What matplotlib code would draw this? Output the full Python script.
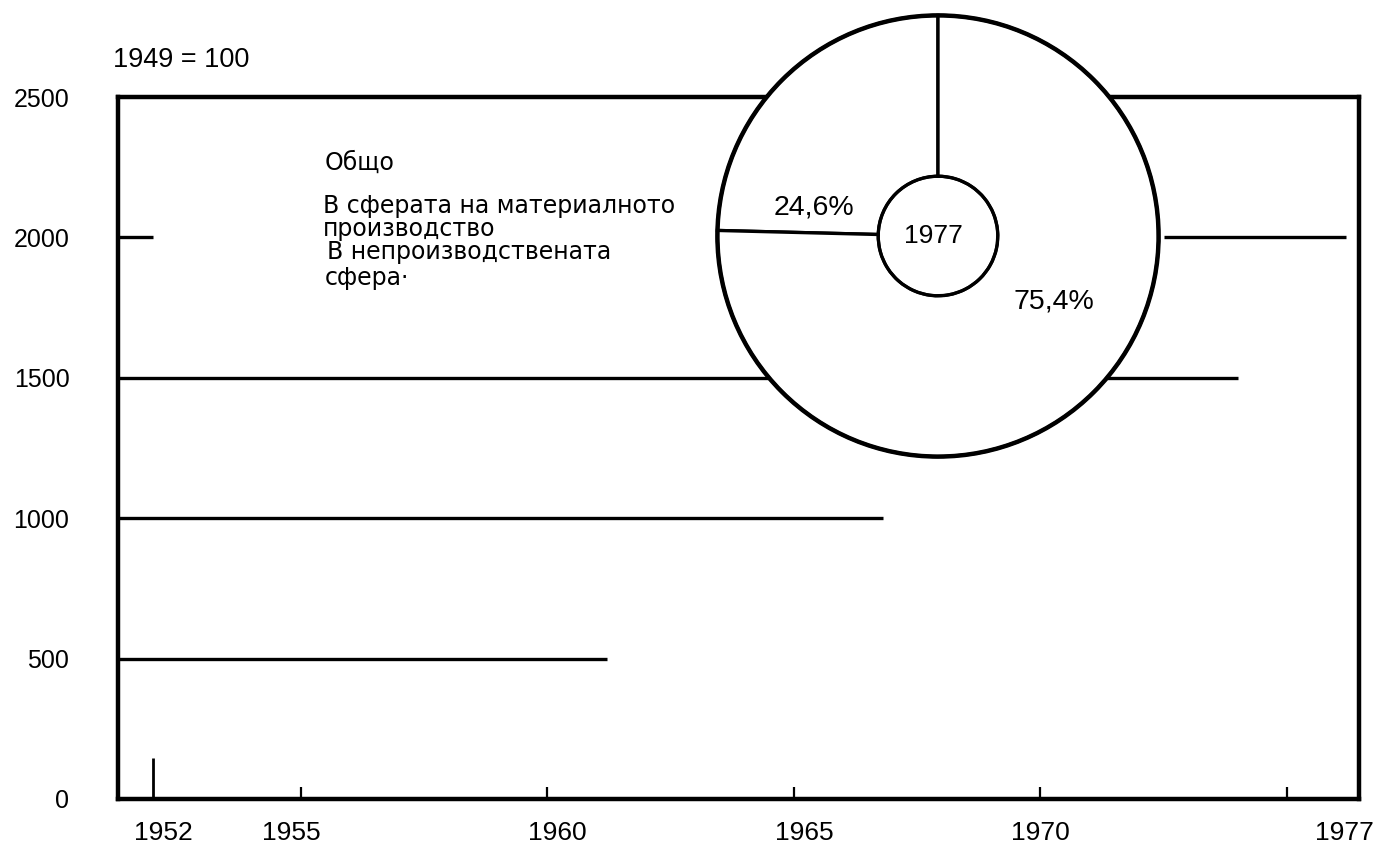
import matplotlib
matplotlib.use("Agg")
import matplotlib.pyplot as plt
from matplotlib.patches import Circle

plt.rcParams['font.family'] = ['Liberation Sans', 'DejaVu Sans']

## Index values, 1949 = 100
levels = [500, 1000, 1500, 2000, 2000]
line_start = [1951.3, 1951.3, 1951.3, 1951.3, 1972.5]
line_end = [1961.2, 1966.8, 1974.0, 1952.0, 1976.2]

bar_year = 1952
bar_value = 145

tick_years = [1955, 1960, 1965, 1970, 1975]
label_years = [1952, 1955, 1960, 1965, 1970, 1977]
y_ticks = [0, 500, 1000, 1500, 2000, 2500]

## Structure in 1977
pie_values = [24.6, 75.4]
pie_year = "1977"

legend_lines = ["Общо",
                "В сферата на материалното",
                "производство",
                "В непроизводствената",
                "сфера·"]

x_left, x_right = 1951.29, 1976.46

fig = plt.figure(figsize=(13.9, 8.55), dpi=100)
ax = fig.add_axes([0.0849, 0.0655, 0.8928, 0.821])

for lev, a, b in zip(levels, line_start, line_end):
    ax.plot([a, b], [lev, lev], color='black', lw=2.4, solid_capstyle='butt')
ax.vlines(bar_year, 0, bar_value, color='black', lw=2.0)

ax.set_xlim(x_left, x_right)
ax.set_ylim(0, 2500)
for s in ax.spines.values():
    s.set_linewidth(3.2)

ax.set_yticks(y_ticks)
ax.set_yticklabels([str(v) for v in y_ticks], fontsize=18)
ax.tick_params(axis='y', length=0, pad=35)

## year labels; the last one sits at the right edge
label_pos = [1952.2, 1954.8, 1960.2, 1965.2, 1970, x_right - 0.3]
ax.set_xticks(label_pos)
ax.set_xticklabels([str(v) for v in label_years], fontsize=19)
ax.tick_params(axis='x', which='major', length=0, pad=16)
ax.xaxis.remove_overlapping_locs = False
ax.set_xticks(tick_years, minor=True)
ax.tick_params(axis='x', which='minor', direction='in', length=9, width=1.6)

fig.text(113/1390, 1 - 60/855, "1949 = 100", fontsize=19.5, va='center', ha='left')

## legend text (the swatches are missing in the original)
leg_x = [325, 323, 323, 327, 325]
leg_base = [170, 213, 236, 259, 285]
for t, lx, ly in zip(legend_lines, leg_x, leg_base):
    fig.text(lx/1390, 1 - ly/855, t, fontsize=17, va='baseline', ha='left',
             family=['DejaVu Sans'])

## ring chart
pax = fig.add_axes([713/1390, 1 - 461/855, 450/1390, 450/855])
wedges, _ = pax.pie(pie_values, startangle=90, counterclock=True,
                    wedgeprops=dict(width=0.729, edgecolor='black', linewidth=2.4,
                                    facecolor='white'))
pax.add_patch(Circle((0, 0), 1.0, fill=False, lw=3.2, color='black'))
pax.add_patch(Circle((0, 0), 0.271, fill=False, lw=2.2, color='black'))
pax.set_xlim(-1.02, 1.02)
pax.set_ylim(-1.02, 1.02)
pax.set_aspect('equal')

pct = [("%.1f%%" % v).replace('.', ',') for v in pie_values]
pax.text(-0.564, 0.129, pct[0], fontsize=20.5, ha='center', va='center')
pax.text(0.524, -0.298, pct[1], fontsize=20.5, ha='center', va='center')
pax.text(-0.02, 0.0, pie_year, fontsize=19, ha='center', va='center')

fig.savefig("out.png", dpi=100, facecolor='white')
